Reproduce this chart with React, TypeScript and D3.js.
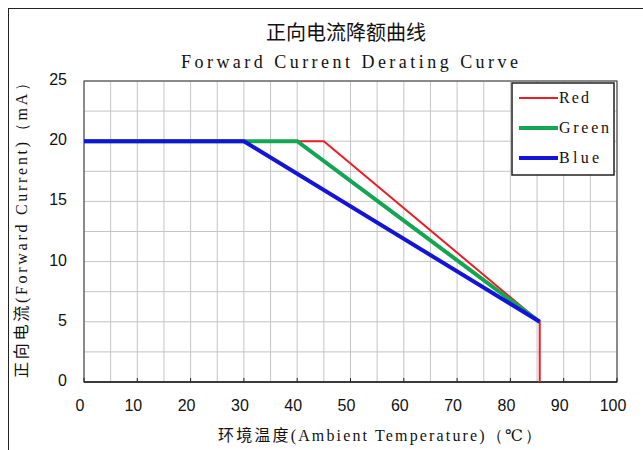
import * as d3 from "d3";

// derating curves, temperature (°C) vs current (mA)
const redTemps = [0, 45, 85.5, 85.5];
const redCurrent = [20, 20, 5, 0];
const greenTemps = [0, 40, 85.5];
const greenCurrent = [20, 20, 5];
const blueTemps = [0, 30, 85.5];
const blueCurrent = [20, 20, 5];

const xTicks = [0, 10, 20, 30, 40, 50, 60, 70, 80, 90, 100];
const yTicks = [0, 5, 10, 15, 20, 25];
const legendNames = ["Red", "Green", "Blue"];

const series = [
  { name: "Red", color: "#ee1c25", width: 2, xs: redTemps, ys: redCurrent },
  { name: "Green", color: "#12a552", width: 4, xs: greenTemps, ys: greenCurrent },
  { name: "Blue", color: "#1414d8", width: 4, xs: blueTemps, ys: blueCurrent },
];

const serif = "'Liberation Serif', 'DejaVu Serif', serif";
const cjk = "'Noto Sans CJK SC', sans-serif";
const narrow = "'Liberation Sans Narrow', 'Liberation Sans', sans-serif";

export default function App() {
  const width = 643;
  const height = 450;
  const margin = { top: 81, right: 26, bottom: 68, left: 84 };

  const x = d3.scaleLinear().domain([0, 100]).range([margin.left, width - margin.right]);
  const y = d3.scaleLinear().domain([0, 25]).range([height - margin.bottom, margin.top]);

  const line = d3
    .line<[number, number]>()
    .x((d) => x(d[0]))
    .y((d) => y(d[1]));

  const xGrid = d3.range(0, 100.1, 5);
  const yGrid = d3.range(0, 25.1, 2.5);

  return (
    <svg
      width={width}
      height={height}
      style={{ position: "absolute", left: 0, top: 0, background: "white" }}
    >
      {/* outer frame */}
      <rect x={8.5} y={8.5} width={width + 20} height={height + 20} fill="white" stroke="#222" strokeWidth={1} />

      {/* titles */}
      <text x={346} y={40} textAnchor="middle" fontFamily={cjk} fontSize={20} fill="#111">
        正向电流降额曲线
      </text>
      <text
        x={181}
        y={68}
        fontFamily={serif}
        fontSize={18}
        fill="#111"
        textLength={337}
        lengthAdjust="spacing"
      >
        Forward Current Derating Curve
      </text>

      {/* grid */}
      {xGrid.map((v) => (
        <line key={"gx" + v} x1={x(v)} x2={x(v)} y1={y(0)} y2={y(25)} stroke="#c4c4c4" strokeWidth={1} />
      ))}
      {yGrid.map((v) => (
        <line key={"gy" + v} x1={x(0)} x2={x(100)} y1={y(v)} y2={y(v)} stroke="#c4c4c4" strokeWidth={1} />
      ))}

      {/* plot border */}
      <rect
        x={x(0)}
        y={y(25)}
        width={x(100) - x(0)}
        height={y(0) - y(25)}
        fill="none"
        stroke="#333"
        strokeWidth={1}
      />

      {/* x axis */}
      {xTicks.map((v) => (
        <g key={"xt" + v}>
          <line x1={x(v)} x2={x(v)} y1={y(0)} y2={y(0) - 4} stroke="#222" />
          <text
            x={x(v) - 4}
            y={y(0) + 29}
            textAnchor="middle"
            fontFamily={narrow}
            fontSize={16}
            fill="#111"
          >
            {v}
          </text>
        </g>
      ))}
      <line x1={x(0)} x2={x(100)} y1={y(0)} y2={y(0)} stroke="#222" strokeWidth={1.5} />

      {/* y axis */}
      {yTicks.map((v) => (
        <text
          key={"yt" + v}
          x={x(0) - 17}
          y={y(v) + 4}
          textAnchor="end"
          fontFamily={narrow}
          fontSize={16}
          fill="#111"
        >
          {v}
        </text>
      ))}

      {/* axis titles */}
      <text x={218} y={441} fontSize={16} fill="#111" textLength={323} lengthAdjust="spacing">
        <tspan fontFamily={cjk}>环境温度</tspan>
        <tspan fontFamily={serif}>(Ambient Temperature)（℃）</tspan>
      </text>
      <text
        transform={`translate(27,378) rotate(-90)`}
        fontSize={16}
        fill="#111"
        textLength={303}
        lengthAdjust="spacing"
      >
        <tspan fontFamily={cjk}>正向电流</tspan>
        <tspan fontFamily={serif}>(Forward Current)（mA）</tspan>
      </text>

      {/* curves */}
      {series.map((s) => (
        <path
          key={s.name}
          d={line(s.xs.map((t, i) => [t, s.ys[i]] as [number, number])) || ""}
          fill="none"
          stroke={s.color}
          strokeWidth={s.width}
        />
      ))}

      {/* legend */}
      <g transform="translate(512,83)">
        <rect width={102} height={92} fill="white" stroke="#222" strokeWidth={1.5} />
        {legendNames.map((name, i) => {
          const s = series.find((d) => d.name === name)!;
          return (
            <g key={name} transform={`translate(0,${15 + i * 30})`}>
              <line x1={7} x2={46} y1={0} y2={0} stroke={s.color} strokeWidth={s.width} />
              <text
                x={47}
                y={5}
                fontFamily={serif}
                fontSize={16}
                fill="#111"
                textLength={name.length * 10}
                lengthAdjust="spacing"
              >
                {name}
              </text>
            </g>
          );
        })}
      </g>
    </svg>
  );
}
